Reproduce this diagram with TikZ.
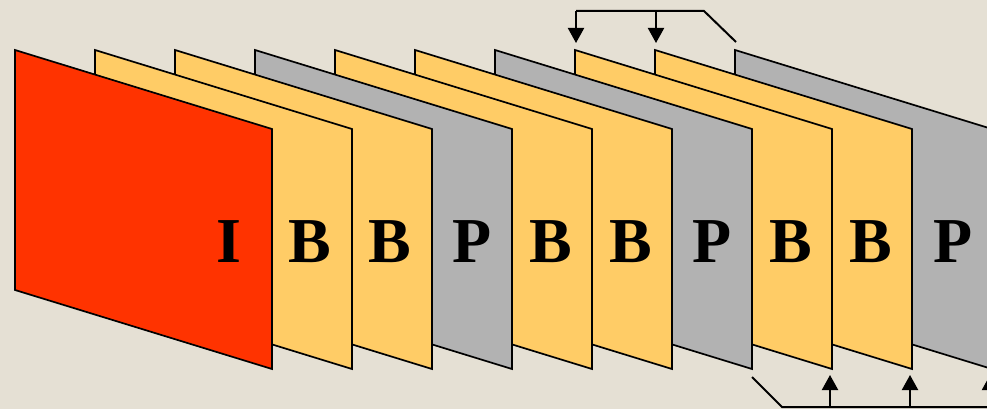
\documentclass[tikz,border=0pt]{standalone}
\usepackage{fontspec}
\setmainfont{Liberation Serif}
\usetikzlibrary{arrows.meta}
\definecolor{bg}{HTML}{E5E0D4}
\definecolor{iframe}{HTML}{FF3300}
\definecolor{bframe}{HTML}{FFCC66}
\definecolor{pframe}{HTML}{B2B2B2}
\tikzset{
  frm/.style={draw=black, line width=1.7pt, line join=miter},
  lbl/.style={anchor=base, inner sep=0pt, font=\fontsize{64}{64}\selectfont\bfseries},
  conn/.style={draw=black, line width=2pt},
  tip/.style={-{Triangle[width=16pt,length=15pt]}},
}
\begin{document}
\begin{tikzpicture}[x=1pt,y=-1pt]
\fill[bg] (0,0) rectangle (987,409);
\useasboundingbox (0,0) rectangle (987,409);
% frames, back to front
\foreach \k/\c in {9/pframe,8/bframe,7/bframe,6/pframe,5/bframe,4/bframe,3/pframe,2/bframe,1/bframe,0/iframe}{
  \pgfmathsetmacro{\xo}{15+80*\k}
  \filldraw[frm, fill=\c] (\xo,50) -- ++(257,79) -- ++(0,240) -- ++(-257,-79) -- cycle;
}
% labels
\node[lbl] (l0) at (229,262) {I};
\node[lbl] (l1) at (310,262) {B};
\node[lbl] (l2) at (390,262) {B};
\node[lbl] (l3) at (472,262) {P};
\node[lbl] (l4) at (551,262) {B};
\node[lbl] (l5) at (631,262) {B};
\node[lbl] (l6) at (712,262) {P};
\node[lbl] (l7) at (791,262) {B};
\node[lbl] (l8) at (871,262) {B};
\node[lbl] (l9) at (953,262) {P};
% top connector
\coordinate (ts) at (736,42);
\coordinate (tk) at (704,11);
\coordinate (ta) at (576,11);
\coordinate (tb) at (656,11);
\coordinate (tae) at (576,43);
\coordinate (tbe) at (656,43);
\draw[conn, line join=miter] (ts) -- (tk) -- (ta);
\draw[conn, tip] (ta) -- (tae);
\draw[conn, tip] (tb) -- (tbe);
% bottom connector
\coordinate (bs) at (752,377);
\coordinate (bk) at (782,407);
\coordinate (be) at (990,407);
\draw[conn, line join=miter] (bs) -- (bk) -- (be);
\foreach \x in {830,910,990}{
  \draw[conn, tip] (\x,407) -- (\x,375);
}
\end{tikzpicture}
\end{document}
